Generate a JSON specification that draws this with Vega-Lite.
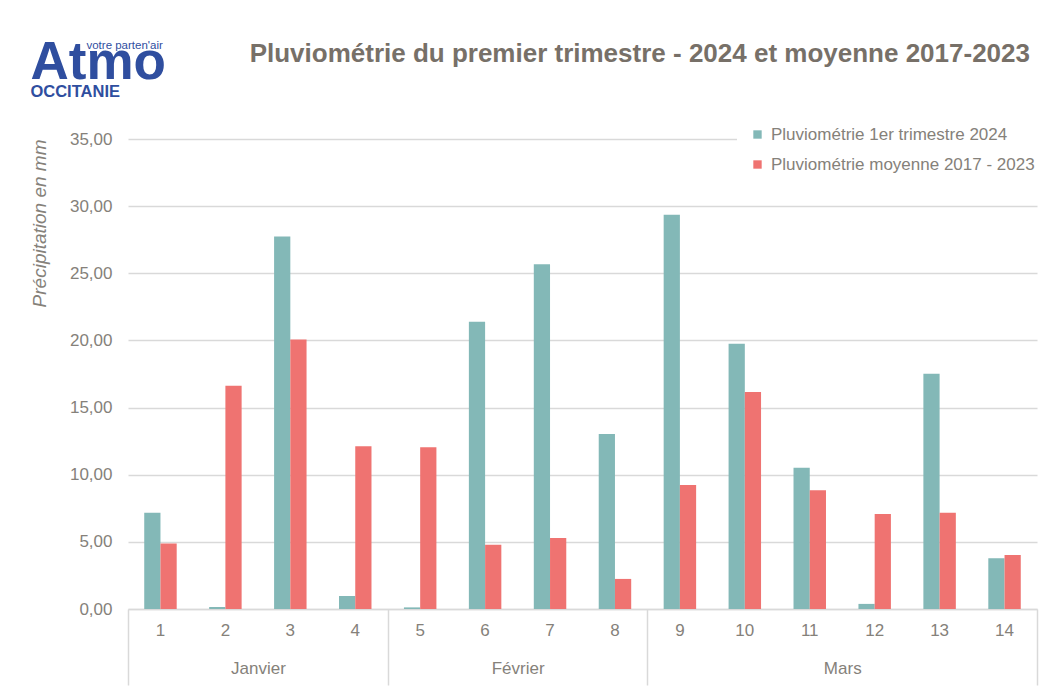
{
  "$schema": "https://vega.github.io/schema/vega-lite/v6.json",
  "padding": {"left": 30, "top": 37, "right": 8, "bottom": 5},
  "background": "white",
  "title": {
    "text": "votre parten'air",
    "anchor": "start",
    "frame": "bounds",
    "font": "Liberation Sans, Arial, sans-serif",
    "fontSize": 11.5,
    "fontWeight": "normal",
    "color": "#2f4e9f",
    "dx": 56,
    "offset": -14
  },
  "vconcat": [
    {
      "title": {
        "text": "Atmo",
        "subtitle": "OCCITANIE",
        "anchor": "start",
        "frame": "bounds",
        "font": "Liberation Sans, Arial, sans-serif",
        "fontSize": 53,
        "fontWeight": "bold",
        "color": "#2f4e9f",
        "subtitleFont": "Liberation Sans, Arial, sans-serif",
        "subtitleFontSize": 16.5,
        "subtitleFontWeight": "bold",
        "subtitleColor": "#2f4e9f",
        "subtitlePadding": -6,
        "offset": -60
      },
      "vconcat": [
        {
          "width": 909,
          "height": 470,
          "title": {
            "text": "Pluviométrie du premier trimestre - 2024 et moyenne 2017-2023",
            "anchor": "end",
            "frame": "group",
            "font": "Liberation Sans, Arial, sans-serif",
            "fontSize": 26,
            "fontWeight": "bold",
            "color": "#777068",
            "dy": -53.5,
            "dx": -7,
            "offset": 10
          },
          "data": {
            "values": [
              {"semaine": 1, "mois": "Janvier", "serie": "Pluviométrie 1er trimestre 2024", "valeur": 7.16},
              {"semaine": 1, "mois": "Janvier", "serie": "Pluviométrie moyenne 2017 - 2023", "valeur": 4.87},
              {"semaine": 2, "mois": "Janvier", "serie": "Pluviométrie 1er trimestre 2024", "valeur": 0.15},
              {"semaine": 2, "mois": "Janvier", "serie": "Pluviométrie moyenne 2017 - 2023", "valeur": 16.62},
              {"semaine": 3, "mois": "Janvier", "serie": "Pluviométrie 1er trimestre 2024", "valeur": 27.74},
              {"semaine": 3, "mois": "Janvier", "serie": "Pluviométrie moyenne 2017 - 2023", "valeur": 20.06},
              {"semaine": 4, "mois": "Janvier", "serie": "Pluviométrie 1er trimestre 2024", "valeur": 0.97},
              {"semaine": 4, "mois": "Janvier", "serie": "Pluviométrie moyenne 2017 - 2023", "valeur": 12.12},
              {"semaine": 5, "mois": "Février", "serie": "Pluviométrie 1er trimestre 2024", "valeur": 0.12},
              {"semaine": 5, "mois": "Février", "serie": "Pluviométrie moyenne 2017 - 2023", "valeur": 12.05},
              {"semaine": 6, "mois": "Février", "serie": "Pluviométrie 1er trimestre 2024", "valeur": 21.4},
              {"semaine": 6, "mois": "Février", "serie": "Pluviométrie moyenne 2017 - 2023", "valeur": 4.78},
              {"semaine": 7, "mois": "Février", "serie": "Pluviométrie 1er trimestre 2024", "valeur": 25.67},
              {"semaine": 7, "mois": "Février", "serie": "Pluviométrie moyenne 2017 - 2023", "valeur": 5.29},
              {"semaine": 8, "mois": "Février", "serie": "Pluviométrie 1er trimestre 2024", "valeur": 13.04},
              {"semaine": 8, "mois": "Février", "serie": "Pluviométrie moyenne 2017 - 2023", "valeur": 2.24},
              {"semaine": 9, "mois": "Mars", "serie": "Pluviométrie 1er trimestre 2024", "valeur": 29.36},
              {"semaine": 9, "mois": "Mars", "serie": "Pluviométrie moyenne 2017 - 2023", "valeur": 9.23},
              {"semaine": 10, "mois": "Mars", "serie": "Pluviométrie 1er trimestre 2024", "valeur": 19.76},
              {"semaine": 10, "mois": "Mars", "serie": "Pluviométrie moyenne 2017 - 2023", "valeur": 16.16},
              {"semaine": 11, "mois": "Mars", "serie": "Pluviométrie 1er trimestre 2024", "valeur": 10.51},
              {"semaine": 11, "mois": "Mars", "serie": "Pluviométrie moyenne 2017 - 2023", "valeur": 8.85},
              {"semaine": 12, "mois": "Mars", "serie": "Pluviométrie 1er trimestre 2024", "valeur": 0.38},
              {"semaine": 12, "mois": "Mars", "serie": "Pluviométrie moyenne 2017 - 2023", "valeur": 7.08},
              {"semaine": 13, "mois": "Mars", "serie": "Pluviométrie 1er trimestre 2024", "valeur": 17.52},
              {"semaine": 13, "mois": "Mars", "serie": "Pluviométrie moyenne 2017 - 2023", "valeur": 7.16},
              {"semaine": 14, "mois": "Mars", "serie": "Pluviométrie 1er trimestre 2024", "valeur": 3.78},
              {"semaine": 14, "mois": "Mars", "serie": "Pluviométrie moyenne 2017 - 2023", "valeur": 4.03}
            ]
          },
          "layer": [
            {
              "mark": {"type": "bar"},
              "encoding": {
                "x": {
                  "field": "semaine",
                  "type": "ordinal",
                  "scale": {"paddingInner": 0, "paddingOuter": 0},
                  "axis": {
                    "title": null,
                    "orient": "bottom",
                    "offset": 0,
                    "domain": true,
                    "domainColor": "#d9d9d9",
                    "domainWidth": 1.5,
                    "ticks": false,
                    "grid": false,
                    "labelAngle": 0,
                    "labelFontSize": 17,
                    "labelPadding": 13
                  }
                },
                "xOffset": {
                  "field": "serie",
                  "type": "nominal",
                  "scale": {"domain": ["Pluviométrie 1er trimestre 2024", "Pluviométrie moyenne 2017 - 2023"], "paddingInner": 0, "paddingOuter": 1.12}
                },
                "y": {
                  "field": "valeur",
                  "type": "quantitative",
                  "scale": {"domain": [0, 35], "nice": false},
                  "axis": {
                    "values": [0, 5, 10, 15, 20, 25, 30, 35],
                    "labelExpr": "replace(format(datum.value, '.2f'), '.', ',')",
                    "domain": false,
                    "ticks": false,
                    "grid": true,
                    "gridColor": "#d9d9d9",
                    "gridWidth": 1.5,
                    "labelFontSize": 17,
                    "labelPadding": 16,
                    "title": "Précipitation en mm",
                    "titleFontSize": 19,
                    "titleFontStyle": "italic",
                    "titleFontWeight": "normal",
                    "titleAnchor": "end",
                    "titlePadding": 20
                  }
                },
                "color": {
                  "field": "serie",
                  "type": "nominal",
                  "scale": {"domain": ["Pluviométrie 1er trimestre 2024", "Pluviométrie moyenne 2017 - 2023"], "range": ["#83b8b7", "#ef7371"]},
                  "legend": {
                    "orient": "none",
                    "legendX": 609,
                    "legendY": -25,
                    "title": null,
                    "fillColor": "white",
                    "padding": 12,
                    "symbolType": "square",
                    "symbolSize": 70,
                    "symbolStrokeWidth": 0,
                    "labelFontSize": 17,
                    "rowPadding": 12,
                    "labelOffset": 5,
                    "labelLimit": 400
                  }
                }
              }
            },
            {
              "mark": {"type": "rule", "opacity": 0},
              "encoding": {
                "x": {
                  "field": "semaine",
                  "type": "ordinal",
                  "axis": {
                    "title": null,
                    "orient": "bottom",
                    "offset": 0,
                    "values": [1, 2, 3, 4, 5, 6, 7, 8, 9, 10, 11, 12, 13, 14],
                    "domain": false,
                    "grid": false,
                    "ticks": true,
                    "tickBand": "extent",
                    "tickSize": 76,
                    "tickColor": "#d9d9d9",
                    "tickWidth": 1.5,
                    "tickOpacity": {"condition": {"test": "indexof([1,2,3,5,6,7,9,10,11,12,13], datum.value) >= 0", "value": 0}, "value": 1},
                    "labelExpr": "datum.value == 2 ? 'Janvier' : datum.value == 6 ? 'Février' : datum.value == 11 ? 'Mars' : ''",
                    "labelOffset": 32.5,
                    "labelAngle": 0,
                    "labelFontSize": 17,
                    "labelPadding": -25
                  }
                }
              }
            }
          ],
          "resolve": {"axis": {"x": "independent"}}
        }
      ]
    }
  ],
  "config": {
    "view": {"stroke": null},
    "font": "Liberation Sans, Arial, sans-serif",
    "axis": {
      "labelFont": "Liberation Sans, Arial, sans-serif",
      "titleFont": "Liberation Sans, Arial, sans-serif",
      "labelColor": "#85817a",
      "titleColor": "#85817a"
    },
    "legend": {
      "labelFont": "Liberation Sans, Arial, sans-serif",
      "labelColor": "#85817a"
    }
  }
}
